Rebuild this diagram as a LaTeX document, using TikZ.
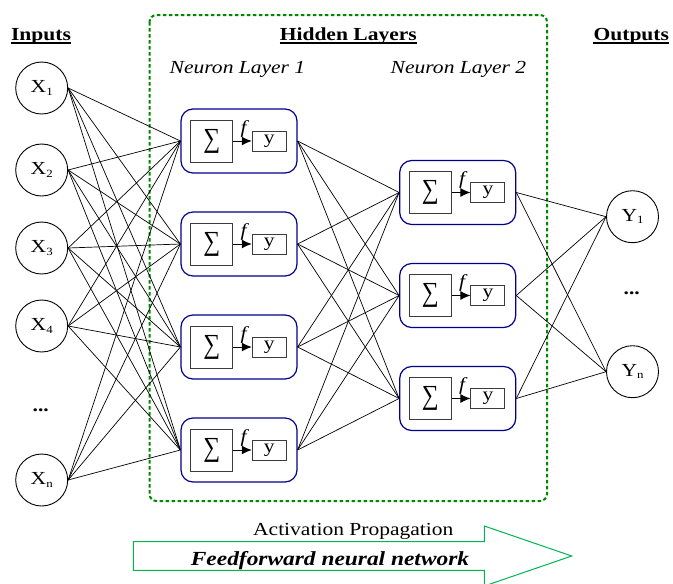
\documentclass[tikz,border=0pt]{standalone}
\usepackage{fontspec}
\usepackage{graphicx}
\setmainfont{Liberation Serif}[FakeStretch=1.17]
\usetikzlibrary{arrows.meta}

\definecolor{neuronblue}{RGB}{0,0,140}
\definecolor{hiddengreen}{RGB}{0,135,0}
\definecolor{flowgreen}{RGB}{0,180,80}
\definecolor{cellgray}{RGB}{60,60,60}

% letter with a small lowered index
\newcommand{\idx}[2]{#1\raisebox{-2.5pt}{\fontsize{11}{11}\selectfont #2}}

% one neuron: rounded frame, summation cell, activation arrow and output cell
\newcommand{\neuroncell}[3]{%
  \node[neuron] (#1) at (#2,#3) {};
  \node[sumbox] (#1s) at (#2-27.3,#3) {\raisebox{-1.5pt}{\scalebox{1.1}[1.5]{∑}}};
  \node[actbox] (#1y) at (#2+30.2,#3) {y};
  \draw[actarrow] (#1s.east) -- (#1y.west);
  \node[inner sep=0pt, font=\fontsize{18.4}{22}\selectfont\itshape] (#1f) at (#2+4.5,#3-12.3) {f};
}

\begin{document}
\begin{tikzpicture}[x=1pt,y=-1pt,
  every node/.style={font=\fontsize{18.4}{22}\selectfont},
  unit/.style={circle, draw, line width=0.9pt, minimum size=52pt, inner sep=0pt},
  neuron/.style={draw=neuronblue, line width=1.2pt, rounded corners=12pt,
    minimum width=116pt, minimum height=64pt, inner sep=0pt},
  sumbox/.style={draw=cellgray, line width=0.9pt, minimum size=42pt, inner sep=0pt},
  actbox/.style={draw=cellgray, line width=0.9pt, minimum width=34pt,
    minimum height=20pt, inner sep=0pt},
  actarrow/.style={-{Latex[length=10pt,width=9pt]}, line width=0.9pt},
  link/.style={line width=0.7pt},
  header/.style={font=\fontsize{18.4}{22}\selectfont\bfseries, anchor=base, inner sep=0pt},
  sublabel/.style={font=\fontsize{18.4}{22}\selectfont\itshape, anchor=base, inner sep=0pt},
  ellipsis/.style={font=\fontsize{18.4}{22}\selectfont\bfseries, anchor=base, inner sep=0pt},
  underbar/.style={line width=1.5pt},
  hiddenframe/.style={draw=hiddengreen, line width=2pt, rounded corners=7pt,
    dash pattern=on 3.5pt off 2.5pt},
  flowarrow/.style={draw=flowgreen, line width=1pt, line join=miter},
]
\useasboundingbox (0,0) rectangle (673,584);

% hidden-layer frame
\draw[hiddenframe] (149.5,15) rectangle (547,501);

% headings
\node[header] (hin) at (41,40.7) {Inputs};
\node[header] (hhid) at (348.3,40.7) {Hidden Layers};
\node[header] (hout) at (631.3,40.7) {Outputs};
\foreach \h in {hin,hhid,hout}
  \draw[underbar] ([yshift=-2.2pt]\h.base west) -- ([yshift=-2.2pt]\h.base east);

\node[sublabel] (nl1) at (237.5,73.3) {Neuron Layer 1};
\node[sublabel] (nl2) at (458.5,73.3) {Neuron Layer 2};

% input units
\node[unit] (x1) at (41.7,88) {\idx{X}{1}};
\node[unit] (x2) at (41.7,170) {\idx{X}{2}};
\node[unit] (x3) at (41.7,248) {\idx{X}{3}};
\node[unit] (x4) at (41.7,326) {\idx{X}{4}};
\node[ellipsis] (xdots) at (40.7,411) {...};
\node[unit] (xn) at (41.7,480) {\idx{X}{n}};

% output units
\node[unit] (y1) at (632.5,216.7) {\idx{Y}{1}};
\node[ellipsis] (ydots) at (631.7,294.7) {...};
\node[unit] (yn) at (632.5,371.7) {\idx{Y}{n}};

% neurons of the two hidden layers
\neuroncell{a1}{239}{141}
\neuroncell{a2}{239}{244}
\neuroncell{a3}{239}{347}
\neuroncell{a4}{239}{450}
\neuroncell{b1}{457.7}{192.5}
\neuroncell{b2}{457.7}{295.5}
\neuroncell{b3}{457.7}{398.5}

% fully connected links
\foreach \i in {x1,x2,x3,x4,xn}
  \foreach \j in {a1,a2,a3,a4}
    \draw[link] (\i.east) -- (\j.west);
\foreach \i in {a1,a2,a3,a4}
  \foreach \j in {b1,b2,b3}
    \draw[link] (\i.east) -- (\j.west);
\foreach \i in {b1,b2,b3}
  \foreach \j in {y1,yn}
    \draw[link] (\i.east) -- (\j.west);

% propagation arrow
\draw[flowarrow] (133.3,541.7) -- (484.3,541.7) -- (484.3,526) -- (571.7,556)
  -- (484.3,586) -- (484.3,570.3) -- (133.3,570.3) -- cycle;
\node[anchor=base, inner sep=0pt] (act) at (353.3,535.7) {Activation Propagation};
\node[anchor=base, inner sep=0pt, font=\fontsize{20}{24}\selectfont\bfseries\itshape]
  (ffn) at (330,565) {Feedforward neural network};
\end{tikzpicture}
\end{document}
